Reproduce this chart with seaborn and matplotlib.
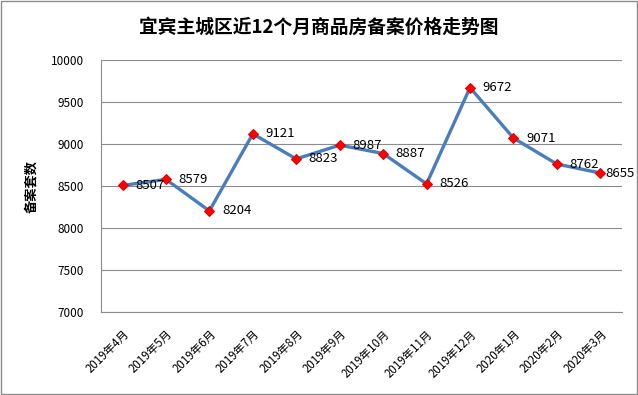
import pandas as pd
import matplotlib.pyplot as plt
import seaborn as sns

# данные
months = ['2019年4月', '2019年5月', '2019年6月', '2019年7月', '2019年8月', '2019年9月',
          '2019年10月', '2019年11月', '2019年12月', '2020年1月', '2020年2月', '2020年3月']
prices = [8507, 8579, 8204, 9121, 8823, 8987, 8887, 8526, 9672, 9071, 8762, 8655]
y_ticks = [7000, 7500, 8000, 8500, 9000, 9500, 10000]

df = pd.DataFrame({'month': months, 'price': prices})

sns.set_style('white')
plt.rcParams['font.family'] = ['Noto Sans CJK SC', 'DejaVu Sans']
plt.rcParams['text.color'] = 'black'
plt.rcParams['xtick.color'] = 'black'
plt.rcParams['ytick.color'] = 'black'
plt.rcParams['axes.labelcolor'] = 'black'

fig = plt.figure(figsize=(6.38, 3.95), dpi=100)
ax = fig.add_axes([0.158, 0.21, 0.817, 0.638])

sns.lineplot(data=df, x='month', y='price', ax=ax, color='#4A7EBB', linewidth=2.4,
             marker='D', markersize=5.5, markerfacecolor='#FF0000', markeredgecolor='#E00000',
             sort=False)

# подписи значений
for i, v in enumerate(prices):
    dx = 9 if i < len(prices) - 1 else 3.5
    ax.annotate(str(v), (i, v), xytext=(dx, 0), textcoords='offset points',
                ha='left', va='center', fontsize=9.5)

ax.set_ylim(7000, 10000)
ax.set_xlim(-0.5, len(months) - 0.5)
ax.set_yticks(y_ticks)
ax.set_yticklabels([str(t) for t in y_ticks], fontsize=8.5)
ax.set_xticks(range(len(months)))
ax.set_xticklabels(months, rotation=45, ha='right', rotation_mode='anchor', fontsize=8.3)
ax.tick_params(axis='x', length=0, pad=11)
ax.tick_params(axis='y', length=0, pad=12)
ax.yaxis.grid(True, color='#8C8C8C', linewidth=0.8)
ax.set_axisbelow(True)

for s in ['top', 'right']:
    ax.spines[s].set_visible(False)
for s in ['left', 'bottom']:
    ax.spines[s].set_color('#8C8C8C')
    ax.spines[s].set_linewidth(0.8)

ax.set_xlabel('')
ax.set_ylabel('备案套数', fontsize=9.5, fontweight='bold', labelpad=9)

fig.suptitle('宜宾主城区近12个月商品房备案价格走势图', fontsize=13.5, fontweight='bold',
             x=0.5, y=0.955)

# рамка вокруг рисунка
fig.patches.append(plt.Rectangle((0.002, 0.002), 0.996, 0.995, transform=fig.transFigure,
                                 fill=False, edgecolor='#8C8C8C', linewidth=1))

fig.savefig('out.png', dpi=100)
